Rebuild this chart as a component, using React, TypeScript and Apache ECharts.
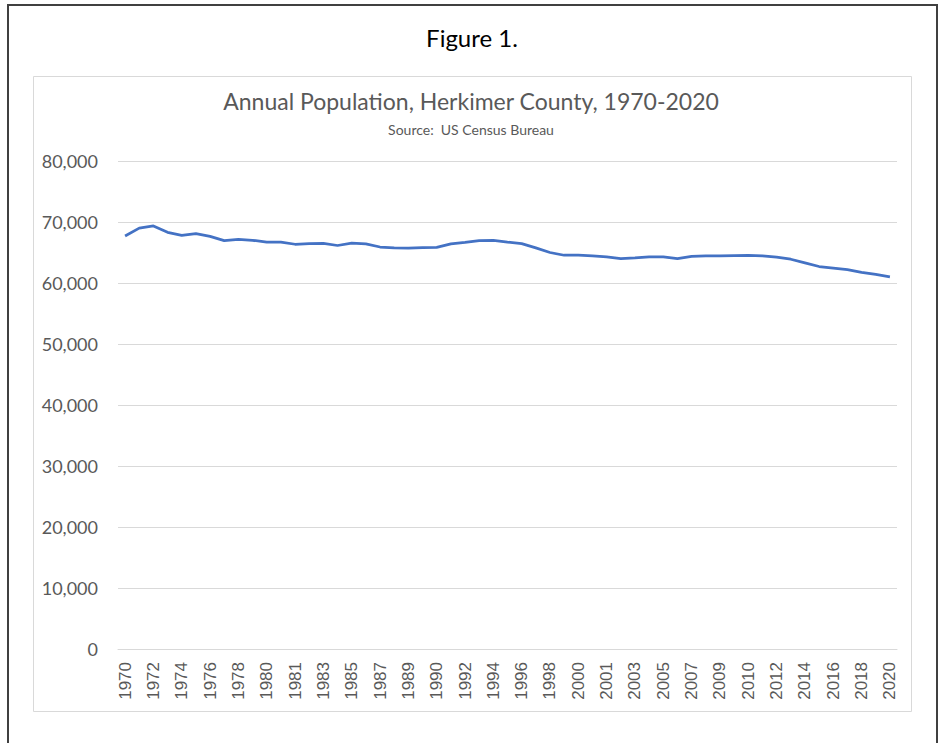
import React, { useEffect, useRef } from "react";
import * as echarts from "echarts";

const years: string[] = [
  "1970", "1971", "1972", "1973", "1974", "1975", "1976", "1977", "1978", "1979", "1980",
  "1980", "1981", "1982", "1983", "1984", "1985", "1986", "1987", "1988", "1989", "1990",
  "1990", "1991", "1992", "1993", "1994", "1995", "1996", "1997", "1998", "1999", "2000",
  "2000", "2001", "2002", "2003", "2004", "2005", "2006", "2007", "2008", "2009", "2010",
  "2010", "2011", "2012", "2013", "2014", "2015", "2016", "2017", "2018", "2019", "2020",
];

const population: number[] = [
  67700, 69000, 69350, 68300, 67800, 68100, 67650, 66950, 67150, 67000, 66700,
  66714, 66350, 66450, 66500, 66150, 66550, 66400, 65900, 65750, 65700, 65800,
  65850, 66400, 66650, 66950, 67000, 66700, 66450, 65750, 65000, 64550, 64550,
  64427, 64300, 64000, 64100, 64300, 64300, 64000, 64350, 64430, 64430, 64500,
  64519, 64450, 64250, 63900, 63300, 62700, 62450, 62200, 61750, 61400, 61000,
];

const figureLabel = "Figure 1.";
const chartTitle = "Annual Population, Herkimer County, 1970-2020";
const chartSubtitle = "Source:  US Census Bureau";

export default function App() {
  const ref = useRef<HTMLDivElement>(null);

  useEffect(() => {
    if (!ref.current) return;
    const chart = echarts.init(ref.current, null, { renderer: "svg" });
    const grey = "#595959";
    chart.setOption({
      animation: false,
      backgroundColor: "#ffffff",
      graphic: [
        {
          type: "rect",
          shape: { x: 8, y: 5, width: 929, height: 760 },
          style: { fill: "none", stroke: "#404040", lineWidth: 2 },
          z: 0,
        },
        {
          type: "rect",
          shape: { x: 33.5, y: 76.5, width: 878, height: 635 },
          style: { fill: "none", stroke: "#d9d9d9", lineWidth: 1 },
          z: 0,
        },
        {
          type: "text",
          x: 472,
          y: 37,
          style: {
            text: figureLabel,
            fill: "#000000",
            font: "24px Lato",
            textAlign: "center",
            textVerticalAlign: "middle",
          },
        },
        {
          type: "text",
          x: 471,
          y: 101,
          style: {
            text: chartTitle,
            fill: grey,
            font: "23px Lato",
            textAlign: "center",
            textVerticalAlign: "middle",
          },
        },
        {
          type: "text",
          x: 471,
          y: 129,
          style: {
            text: chartSubtitle,
            fill: grey,
            font: "14px Lato",
            textAlign: "center",
            textVerticalAlign: "middle",
          },
        },
      ],
      grid: {
        left: 118,
        right: 47,
        top: 161,
        bottom: 94,
        containLabel: false,
      },
      xAxis: {
        type: "category",
        data: years,
        boundaryGap: true,
        axisLine: { show: true, lineStyle: { color: "#d9d9d9", width: 1 } },
        axisTick: { show: false },
        axisLabel: {
          interval: 1,
          rotate: 90,
          color: grey,
          fontFamily: "Liberation Sans",
          fontSize: 17,
          margin: 13,
        },
        splitLine: { show: false },
      },
      yAxis: {
        type: "value",
        min: 0,
        max: 80000,
        interval: 10000,
        axisLine: { show: false },
        axisTick: { show: false },
        axisLabel: {
          color: grey,
          fontFamily: "Lato",
          fontSize: 18,
          margin: 20,
          formatter: (v: number) => v.toLocaleString("en-US"),
        },
        splitLine: { show: true, lineStyle: { color: "#d9d9d9", width: 1 } },
      },
      series: [
        {
          type: "line",
          data: population,
          showSymbol: false,
          symbol: "none",
          smooth: false,
          lineStyle: { color: "#4472C4", width: 2.75 },
          itemStyle: { color: "#4472C4" },
        },
      ],
    });
    return () => chart.dispose();
  }, []);

  return (
    <div
      ref={ref}
      style={{ position: "fixed", left: 0, top: 0, width: 944, height: 743 }}
    />
  );
}
